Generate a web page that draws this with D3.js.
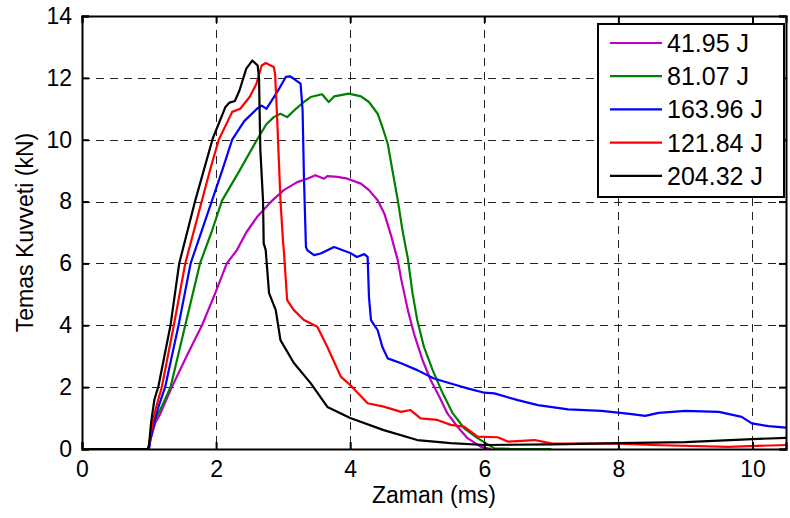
<!DOCTYPE html>
<html>
<head>
<meta charset="utf-8">
<script src="https://cdn.jsdelivr.net/npm/d3@7"></script>
<style>
  body { margin: 0; background: #fff; }
  svg text { font-family: "Liberation Sans", Arial, sans-serif; fill: #000; }
</style>
</head>
<body>
<svg width="790" height="518"></svg>
<script>
// Degerler: [zaman (ms), kuvvet (kN)]
const curve4195 = [[0,0],[0.99,0],[1.02,0.3],[1.09,0.83],[1.17,1.15],[1.34,2.0],[1.56,3.0],[1.79,4.0],[1.98,5.0],
  [2.16,6.0],[2.31,6.43],[2.45,7.0],[2.61,7.5],[2.84,8.04],[3.01,8.37],[3.21,8.63],[3.36,8.74],[3.48,8.85],
  [3.61,8.74],[3.66,8.82],[3.81,8.8],[3.96,8.74],[4.16,8.58],[4.28,8.37],[4.41,8.04],[4.51,7.61],[4.61,6.9],
  [4.71,6.1],[4.76,5.5],[4.86,4.49],[4.95,3.74],[5.08,2.87],[5.2,2.23],[5.33,1.69],[5.45,1.15],[5.6,0.72],
  [5.75,0.35],[5.95,0.07],[6.1,0]];
const curve8107 = [[0,0],[0.99,0],[1.01,0.3],[1.1,1.0],[1.19,1.37],[1.32,2.0],[1.54,4.0],[1.76,6.0],[1.93,7.0],
  [2.09,8.04],[2.35,9.0],[2.61,10.0],[2.75,10.5],[2.86,10.73],[2.96,10.84],[3.06,10.73],[3.19,11.0],[3.31,11.22],
  [3.41,11.38],[3.58,11.47],[3.68,11.22],[3.76,11.4],[3.98,11.49],[4.16,11.4],[4.28,11.22],[4.41,10.84],
  [4.48,10.41],[4.56,9.87],[4.63,9.01],[4.71,8.04],[4.78,7.07],[4.86,6.16],[4.93,5.03],[5.0,4.17],[5.1,3.3],
  [5.23,2.55],[5.38,1.8],[5.53,1.15],[5.7,0.67],[5.9,0.35],[6.15,0.02],[6.4,0],[7.0,0]];
const curve16396 = [[0,0],[1.0,0],[1.02,0.3],[1.07,0.8],[1.13,1.3],[1.24,2.0],[1.44,4.0],[1.62,6.0],[1.94,8.04],
  [2.09,9.0],[2.24,10.0],[2.42,10.6],[2.61,11.0],[2.68,11.1],[2.75,11.0],[2.91,11.54],[3.04,12.03],[3.1,12.05],
  [3.16,11.97],[3.26,11.81],[3.29,10.95],[3.31,8.8],[3.34,6.53],[3.36,6.43],[3.46,6.27],[3.56,6.32],[3.76,6.53],
  [4.0,6.34],[4.1,6.21],[4.21,6.3],[4.26,6.21],[4.28,4.92],[4.31,4.17],[4.41,3.84],[4.48,3.3],[4.56,2.93],
  [4.76,2.77],[5.0,2.55],[5.25,2.28],[5.5,2.12],[5.75,1.96],[6.0,1.82],[6.15,1.8],[6.5,1.58],[6.8,1.42],
  [7.25,1.28],[7.75,1.23],[8.2,1.13],[8.4,1.07],[8.6,1.17],[9.0,1.23],[9.5,1.2],[9.84,1.04],[9.99,0.83],
  [10.24,0.74],[10.5,0.69]];
const curve12184 = [[0,0],[0.99,0],[1.01,0.3],[1.05,0.8],[1.1,1.3],[1.19,2.0],[1.37,4.0],[1.54,6.0],[1.79,8.04],
  [1.92,9.1],[2.04,10.0],[2.24,10.9],[2.36,11.0],[2.5,11.38],[2.6,11.8],[2.68,12.4],[2.74,12.48],[2.86,12.35],
  [2.88,12.13],[2.91,10.73],[2.96,8.04],[3.0,6.65],[3.01,6.43],[3.06,4.81],[3.16,4.49],[3.31,4.17],[3.51,3.95],
  [3.66,3.3],[3.86,2.34],[4.0,2.07],[4.26,1.48],[4.5,1.37],[4.76,1.2],[4.9,1.26],[5.05,0.99],[5.3,0.94],
  [5.5,0.78],[5.7,0.72],[5.9,0.4],[6.2,0.38],[6.35,0.24],[6.75,0.29],[7.0,0.18],[8.0,0.17],[8.5,0.13],
  [9.64,0.07],[10.5,0.13]];
const curve20432 = [[0,0],[0.98,0],[1.0,0.1],[1.03,0.85],[1.08,1.6],[1.14,2.03],[1.32,4.0],[1.45,6.0],[1.69,8.04],
  [1.95,10.04],[2.14,11.06],[2.2,11.2],[2.28,11.25],[2.35,11.6],[2.45,12.3],[2.54,12.56],[2.62,12.4],
  [2.64,12.0],[2.66,9.66],[2.7,8.04],[2.71,6.65],[2.74,6.43],[2.79,5.04],[2.89,4.49],[2.96,3.52],[3.16,2.78],
  [3.41,2.13],[3.66,1.36],[4.0,1.0],[4.5,0.61],[5.0,0.29],[5.5,0.19],[6.0,0.13],[7,0.15],[8,0.19],[9,0.22],
  [10,0.32],[10.5,0.36]];

const seriesNames = ["41.95 J", "81.07 J", "163.96 J", "121.84 J", "204.32 J"];
const seriesData = [curve4195, curve8107, curve16396, curve12184, curve20432];
const seriesColors = ["#bf00bf", "#008000", "#0000ff", "#ff0000", "#000000"];
const xTicks = [0, 2, 4, 6, 8, 10];
const yTicks = [0, 2, 4, 6, 8, 10, 12, 14];

let svg = d3.select("svg"),
  width = +svg.attr("width"),
  height = +svg.attr("height");

const margin = { top: 16, right: 4, bottom: 69, left: 82 };
const iw = width - margin.left - margin.right,
  ih = height - margin.top - margin.bottom;

const x = d3.scaleLinear().domain([0, 10.5]).range([0, iw]);
const y = d3.scaleLinear().domain([0, 14]).range([ih, 0]);

const g = svg.append("g").attr("transform", `translate(${margin.left},${margin.top})`);

// grid
g.append("g")
  .selectAll("line")
  .data(xTicks.slice(1))
  .enter()
  .append("line")
  .attr("x1", (d) => Math.round(x(d)) + 0.5)
  .attr("x2", (d) => Math.round(x(d)) + 0.5)
  .attr("y1", 0)
  .attr("y2", ih)
  .attr("stroke", "#222")
  .attr("stroke-dasharray", "8,6");
g.append("g")
  .selectAll("line")
  .data(yTicks.slice(1, -1))
  .enter()
  .append("line")
  .attr("y1", (d) => Math.round(y(d)) + 0.5)
  .attr("y2", (d) => Math.round(y(d)) + 0.5)
  .attr("x1", 0)
  .attr("x2", iw)
  .attr("stroke", "#222")
  .attr("stroke-dasharray", "8,6");

// egriler
const line = d3
  .line()
  .x((d) => x(d[0]))
  .y((d) => y(d[1]));

g.append("g")
  .selectAll("path")
  .data(seriesData)
  .enter()
  .append("path")
  .attr("d", line)
  .attr("fill", "none")
  .attr("stroke", (d, i) => seriesColors[i])
  .attr("stroke-width", 2.2)
  .attr("stroke-linejoin", "round");

// eksenler (ic tikler)
const tickLen = 7;
const xAxisB = d3.axisBottom(x).tickValues(xTicks).tickSize(-tickLen).tickPadding(12);
const xAxisT = d3.axisTop(x).tickValues(xTicks).tickSize(-tickLen).tickFormat("");
const yAxisL = d3.axisLeft(y).tickValues(yTicks).tickSize(-tickLen).tickPadding(10);
const yAxisR = d3.axisRight(y).tickValues(yTicks).tickSize(-tickLen).tickFormat("");

g.append("g").attr("transform", `translate(0,${ih})`).call(xAxisB);
g.append("g").call(xAxisT);
g.append("g").call(yAxisL);
g.append("g").attr("transform", `translate(${iw},0)`).call(yAxisR);

g.selectAll(".domain").attr("stroke", "#000").attr("stroke-width", 2);
g.selectAll(".tick line").attr("stroke", "#000").attr("stroke-width", 2);
g.selectAll(".tick text").style("font-size", "23px").attr("fill", "#000");

// eksen basliklari
svg
  .append("text")
  .attr("x", margin.left + iw / 2)
  .attr("y", 503)
  .attr("text-anchor", "middle")
  .style("font-size", "23px")
  .text("Zaman (ms)");
svg
  .append("text")
  .attr("transform", `translate(33,${margin.top + ih / 2}) rotate(-90)`)
  .attr("text-anchor", "middle")
  .style("font-size", "23px")
  .text("Temas Kuvveti (kN)");

// legend
const legend = svg.append("g").attr("transform", "translate(598,24)");
legend
  .append("rect")
  .attr("width", 186)
  .attr("height", 173)
  .attr("fill", "#fff")
  .attr("stroke", "#000")
  .attr("stroke-width", 2);
seriesNames.forEach((name, i) => {
  const ly = 19 + i * 33.2;
  legend
    .append("line")
    .attr("x1", 12)
    .attr("x2", 64)
    .attr("y1", ly)
    .attr("y2", ly)
    .attr("stroke", seriesColors[i])
    .attr("stroke-width", 2.2);
  legend
    .append("text")
    .attr("x", 69)
    .attr("y", ly)
    .attr("dy", "0.36em")
    .style("font-size", "25px")
    .text(name);
});
</script>
</body>
</html>
